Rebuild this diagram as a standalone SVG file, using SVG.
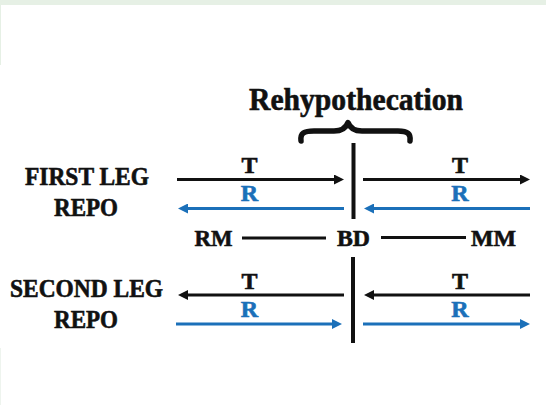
<svg xmlns="http://www.w3.org/2000/svg" width="546" height="405" viewBox="0 0 546 405">
<style>
.t{font-family:"Liberation Serif","Times New Roman",serif;font-weight:bold;fill:#111;stroke:#111;stroke-width:0.6;text-anchor:middle}
.b{fill:#1b70b9;stroke:#1b70b9}
.k{stroke:#111;stroke-width:3;fill:none}
.bl{stroke:#1b70b9;stroke-width:3;fill:none}
</style>
<defs>
<marker id="ak" viewBox="0 0 10 10" refX="5" refY="5" markerWidth="10" markerHeight="10" markerUnits="userSpaceOnUse" orient="auto"><path d="M0,0 L10,5 L0,10 z" fill="#111"/></marker>
<marker id="ab" viewBox="0 0 10 10" refX="5" refY="5" markerWidth="10" markerHeight="10" markerUnits="userSpaceOnUse" orient="auto"><path d="M0,0 L10,5 L0,10 z" fill="#1b70b9"/></marker>
</defs>
<rect width="546" height="405" fill="#fff"/>
<rect x="0" y="0" width="546" height="5" fill="#e6f0e5"/>
<rect x="0" y="5" width="1" height="60" fill="#e6f0e5"/>
<rect x="0" y="348" width="1" height="57" fill="#eef4ee"/>

<g id="title"><text class="t" x="356" y="109.5" font-size="31" textLength="214" lengthAdjust="spacingAndGlyphs">Rehypothecation</text></g>
<g id="brace"><path d="M301,141 C300,133 304,131 314,131 L334,131 C342,131 346,128 348,122.5 C350,128 354,131 362,131 L398,131 C408,131 411,134 410,141" stroke="#111" stroke-width="5.5" fill="none" stroke-linecap="round" stroke-linejoin="round"/></g>
<g id="divider-top"><line x1="353.5" y1="143" x2="353.5" y2="219" stroke="#111" stroke-width="4"/></g>
<g id="divider-bottom"><line x1="353" y1="257" x2="353" y2="343" stroke="#111" stroke-width="4"/></g>

<g id="first-leg"><text class="t" x="87" y="185" font-size="25" textLength="124" lengthAdjust="spacingAndGlyphs">FIRST LEG</text><text class="t" x="86" y="216" font-size="25" textLength="64" lengthAdjust="spacingAndGlyphs">REPO</text></g>
<g id="second-leg"><text class="t" x="86.5" y="297" font-size="25" textLength="153" lengthAdjust="spacingAndGlyphs">SECOND LEG</text><text class="t" x="86" y="328" font-size="25" textLength="64" lengthAdjust="spacingAndGlyphs">REPO</text></g>
<g id="RM"><text class="t" x="213.5" y="246" font-size="24" textLength="38" lengthAdjust="spacingAndGlyphs">RM</text></g>
<g id="BD"><text class="t" x="353.5" y="246" font-size="24" textLength="33" lengthAdjust="spacingAndGlyphs">BD</text></g>
<g id="MM"><text class="t" x="493.5" y="246" font-size="24" textLength="45" lengthAdjust="spacingAndGlyphs">MM</text></g>

<g id="connectors">
<line class="k" x1="242" y1="238" x2="326" y2="238"/>
<line class="k" x1="381" y1="237.5" x2="466" y2="237.5"/>
<line class="k" x1="177" y1="179.5" x2="339" y2="179.5" marker-end="url(#ak)"/>
<line class="k" x1="363" y1="179.5" x2="525" y2="179.5" marker-end="url(#ak)"/>
<line class="bl" x1="344" y1="208.5" x2="183" y2="208.5" marker-end="url(#ab)"/>
<line class="bl" x1="530" y1="208.5" x2="369" y2="208.5" marker-end="url(#ab)"/>
<line class="k" x1="344" y1="295" x2="183" y2="295" marker-end="url(#ak)"/>
<line class="k" x1="530" y1="295" x2="369" y2="295" marker-end="url(#ak)"/>
<line class="bl" x1="176" y1="324" x2="337" y2="324" marker-end="url(#ab)"/>
<line class="bl" x1="363" y1="324" x2="525" y2="324" marker-end="url(#ab)"/>
<text class="t" x="249.5" y="173" font-size="24">T</text>
<text class="t" x="460" y="173" font-size="24">T</text>
<text class="t b" x="249.5" y="201" font-size="24">R</text>
<text class="t b" x="460" y="201" font-size="24">R</text>
<text class="t" x="249.5" y="288.5" font-size="24">T</text>
<text class="t" x="460" y="288.5" font-size="24">T</text>
<text class="t b" x="249.5" y="316.5" font-size="24">R</text>
<text class="t b" x="460" y="316.5" font-size="24">R</text>
</g>
</svg>
